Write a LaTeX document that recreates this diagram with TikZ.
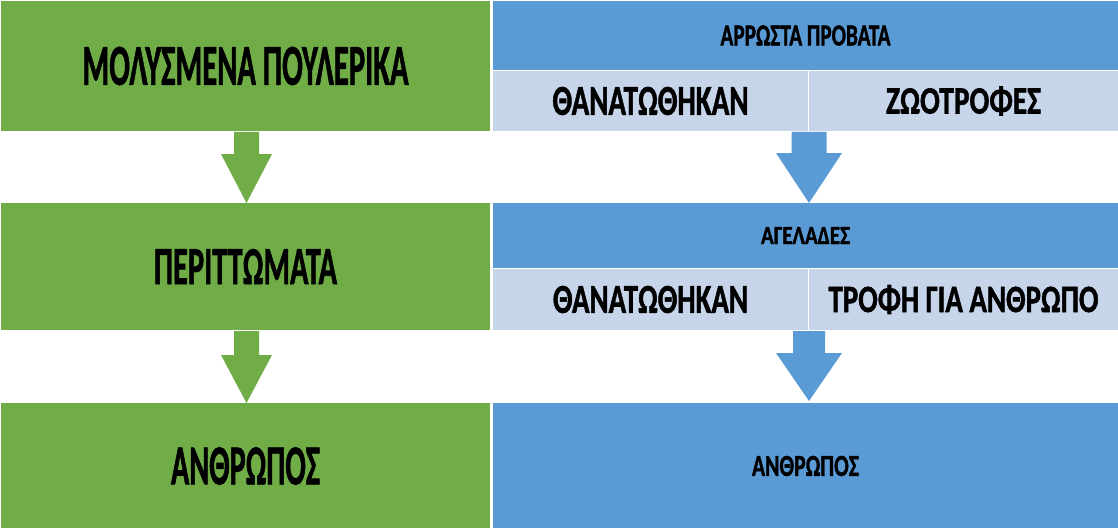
\documentclass[tikz,border=0pt]{standalone}
\usepackage{fontspec}
\setmainfont{Carlito}[BoldFeatures={FakeBold=1.5}]
\usepackage{graphicx}
\newlength\px
\setlength\px{0.75pt}
\definecolor{gfill}{HTML}{70AD47}
\definecolor{bfill}{HTML}{5B9BD5}
\definecolor{lfill}{HTML}{C7D5EB}
\newcommand\fitt[3]{\resizebox{#1\px}{#2\px}{\bfseries #3}}
\tikzset{
  boxbase/.style={draw=white, line width=1\px, inner sep=0pt, anchor=north west, text=black},
  gbox/.style={boxbase, fill=gfill},
  bbox/.style={boxbase, fill=bfill},
  lbox/.style={boxbase, fill=lfill},
  pics/barrow/.style n args={4}{code={
    \fill (-#1,0) -- (#1,0) -- (#1,#3) -- (#2,#3) -- (0,#4) -- (-#2,#3) -- (-#1,#3) -- cycle;
  }}
}
\begin{document}
\begin{tikzpicture}[x=0.75pt,y=-0.75pt]
\useasboundingbox (0,0) rectangle (1118,528);
% left column
\node[gbox, minimum width=490\px, minimum height=131\px] (g1) at (0,0) {\fitt{326}{38}{ΜΟΛΥΣΜΕΝΑ ΠΟΥΛΕΡΙΚΑ}};
\node[gbox, minimum width=490\px, minimum height=128\px] (g2) at (0,202) {\fitt{183}{35}{ΠΕΡΙΤΤΩΜΑΤΑ}};
\node[gbox, minimum width=490\px, minimum height=127\px] (g3) at (0,402) {\fitt{149}{37}{ΑΝΘΡΩΠΟΣ}};
% right column
\node[bbox, minimum width=626\px, minimum height=70\px] (b1h) at (492,0) {\fitt{170}{20}{ΑΡΡΩΣΤΑ ΠΡΟΒΑΤΑ}};
\node[lbox, minimum width=316\px, minimum height=61\px] (b1l) at (492,70) {\fitt{196}{28}{ΘΑΝΑΤΩΘΗΚΑΝ}};
\node[lbox, minimum width=310\px, minimum height=61\px] (b1r) at (808,70) {\fitt{155}{27}{ΖΩΟΤΡΟΦΕΣ}};
\node[bbox, minimum width=626\px, minimum height=66\px] (b2h) at (492,202) {\fitt{89}{17}{ΑΓΕΛΑΔΕΣ}};
\node[lbox, minimum width=316\px, minimum height=62\px] (b2l) at (492,268) {\fitt{195}{27}{ΘΑΝΑΤΩΘΗΚΑΝ}};
\node[lbox, minimum width=310\px, minimum height=62\px] (b2r) at (808,268) {\fitt{270}{27}{ΤΡΟΦΗ ΓΙΑ ΑΝΘΡΩΠΟ}};
\node[bbox, minimum width=626\px, minimum height=127\px] (b3) at (492,402) {\fitt{107}{20}{ΑΝΘΡΩΠΟΣ}};
% arrows
\pic[fill=gfill] at ([xshift=1\px]g1.south) {barrow={12.5}{25.5}{22}{71}};
\pic[fill=gfill] at ([xshift=1\px]g2.south) {barrow={12.5}{25.5}{24}{72}};
\pic[fill=bfill] at (b1l.south east) {barrow={17.5}{33}{21}{71}};
\pic[fill=bfill] at (b2l.south east) {barrow={16}{33}{22}{70}};
\end{tikzpicture}
\end{document}
